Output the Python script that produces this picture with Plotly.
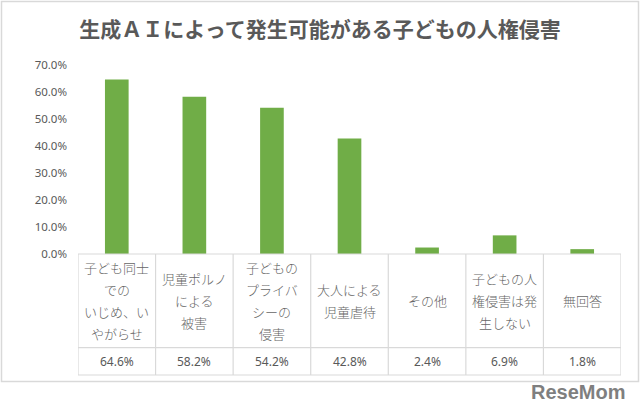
import plotly.graph_objects as go

# ---- data ----
categories = [
    "子ども同士<br>での<br>いじめ、い<br>やがらせ",
    "児童ポルノ<br>による<br>被害",
    "子どもの<br>プライバ<br>シーの<br>侵害",
    "大人による<br>児童虐待",
    "その他",
    "子どもの人<br>権侵害は発<br>生しない",
    "無回答",
]
values = [64.6, 58.2, 54.2, 42.8, 2.4, 6.9, 1.8]
y_ticks = [0, 10, 20, 30, 40, 50, 60, 70]
title_text = "生成ＡＩによって発生可能がある子どもの人権侵害"

# ---- layout geometry (pixels) ----
FW, FH = 640, 416
L, R, T, B = 78, 621, 65, 254
PW, PH = R - L, B - T

def px_x(px):
    return (px - L) / PW

def px_y(py):
    return (B - py) / PH

GREEN = "#70AD47"
TXT = "#595959"
LINE = "#D9D9D9"
JP = "Noto Sans CJK JP"
NUM = "Noto Sans"

idx = list(range(len(categories)))

fig = go.Figure(
    go.Bar(x=idx, y=values, marker=dict(color=GREEN, line=dict(width=0)),
           hoverinfo="skip")
)

shapes = []
# outer chart border
shapes.append(dict(type="rect", xref="paper", yref="paper",
                   x0=px_x(1.5), x1=px_x(638.5), y0=px_y(381.5), y1=px_y(1.5),
                   line=dict(color=LINE, width=1.5), layer="below"))
# data table lines
row_top, row_mid, row_bot = 254, 347.7, 375
for py in (row_top, row_mid, row_bot):
    shapes.append(dict(type="line", xref="x", yref="paper",
                       x0=-0.5, x1=len(categories) - 0.5, y0=px_y(py), y1=px_y(py),
                       line=dict(color=LINE, width=1.2)))
for i in range(len(categories) + 1):
    shapes.append(dict(type="line", xref="x", yref="paper",
                       x0=i - 0.5, x1=i - 0.5, y0=px_y(row_top), y1=px_y(row_bot),
                       line=dict(color=LINE, width=1.2)))

annotations = []
center = (row_top + row_mid) / 2
spacing = 22
for i, cat in enumerate(categories):
    lines = cat.split("<br>")
    n = len(lines)
    for j, ln in enumerate(lines):
        py = center + (j - (n - 1) / 2) * spacing
        annotations.append(dict(x=i, y=px_y(py), xref="x", yref="paper",
                                text=ln, showarrow=False, xanchor="center",
                                yanchor="middle",
                                font=dict(family=JP, size=13, color="#666666", weight=300)))
for i, v in enumerate(values):
    annotations.append(dict(x=i, y=px_y(361.5), xref="x", yref="paper",
                            text=f"{v:.1f}%", showarrow=False, xanchor="center",
                            yanchor="middle",
                            font=dict(family=NUM, size=12, color=TXT)))
# watermark
annotations.append(dict(x=px_x(627), y=px_y(392), xref="paper", yref="paper",
                        text="<b>ReseMom</b>", showarrow=False, xanchor="right",
                        yanchor="middle",
                        font=dict(family="Liberation Sans", size=20, color="#7F7F7F")))

fig.update_layout(
    width=FW, height=FH,
    margin=dict(l=L, r=FW - R, t=T, b=FH - B, pad=0),
    paper_bgcolor="white", plot_bgcolor="white",
    showlegend=False,
    bargap=0.695,
    title=dict(text=f"<b>{title_text}</b>", xref="container", yref="container",
               x=0.5, y=1 - 30 / FH, xanchor="center", yanchor="middle",
               font=dict(family=JP, size=21, color=TXT)),
    xaxis=dict(range=[-0.5, len(categories) - 0.5], showticklabels=False,
               showgrid=False, zeroline=False, showline=False, ticks="",
               fixedrange=True),
    yaxis=dict(range=[0, 70], tickvals=y_ticks,
               ticktext=[f"{t:.1f}%" for t in y_ticks],
               showgrid=False, zeroline=False, showline=False, ticks="",
               ticklabelstandoff=10,
               tickfont=dict(family=NUM, size=11.5, color=TXT), fixedrange=True),
    shapes=shapes,
    annotations=annotations,
)

fig.write_html("out.html", config={"displayModeBar": False},
               post_script="document.body.style.margin='0';document.body.style.padding='0';")
